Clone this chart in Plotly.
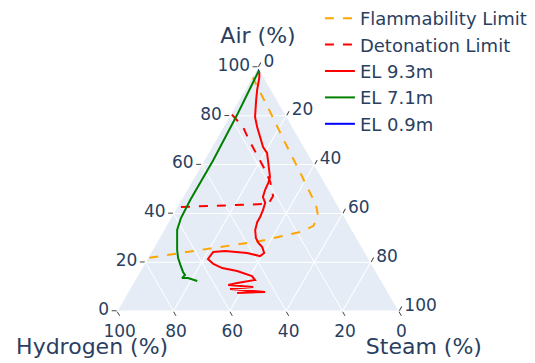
import plotly.graph_objects as go

# Flammability limit boundary (air %, steam %); hydrogen is the balance
flam_air = [96, 81.6, 68.9, 56.1, 43.4, 38.9, 34.8, 32.4, 28.7, 25.0, 21.7]
flam_steam = [0, 13.5, 25.2, 37.2, 48.9, 51.9, 52.2, 48.8, 36.5, 17.0, 0]

# Detonation limit boundary
det_air = [80.5, 75.4, 70.9, 63.1, 57.8, 52.9, 47.1, 43.9, 42.6]
det_steam = [0.5, 7.0, 11.0, 18.5, 23.6, 27.9, 31.8, 31.7, 0.5]

# Gas composition at elevation 9.3 m
el93_air = [99, 95.5, 90.6, 86.5, 79.5, 75.4, 71.3, 67.2, 64.8, 60.7, 54.9,
            52.5, 49.6, 46.7, 44.3, 41.4, 38.5, 36.5, 33.2, 29.9, 27.9, 26.2,
            23.8, 22.5, 23.8, 24.6, 24.2, 21.3, 19.3, 17.6, 16.4, 14.3,
            12.7, 11.5, 10.7, 9.8, 9.0, 7.8, 7.4, 7.8]
el93_steam = [1, 2.7, 4.4, 6.1, 9.2, 12.0, 15.1, 18.2, 20.8, 23.3, 26.8,
              27.4, 27.7, 28.4, 30.4, 31.1, 31.5, 31.5, 32.4, 34.3, 36.2, 38.4,
              40.3, 39.5, 34.2, 26.0, 22.0, 21.6, 24.5, 28.5, 34.4, 40.7,
              42.6, 36.9, 34.1, 43.4, 35.6, 48.6, 38.9, 45.8]

# Gas composition at elevation 7.1 m
el71_air = [99, 80.3, 61.9, 45.5, 38.1, 33.2, 25.0, 21.7, 18.9, 16.0, 14.8, 13.5, 13.5, 12.3]
el71_steam = [1, 2.4, 3.2, 3.2, 3.6, 4.7, 8.8, 10.8, 13.0, 15.4, 16.7, 16.3, 18.4, 22.3]

# Gas composition at elevation 0.9 m
el09_air = [99, 98.5]
el09_steam = [1, 1.2]


def hydrogen(air, steam):
    return [100 - a - s for a, s in zip(air, steam)]


series = [
    ("Flammability Limit", flam_air, flam_steam, "orange", "dash"),
    ("Detonation Limit", det_air, det_steam, "red", "dash"),
    ("EL 9.3m", el93_air, el93_steam, "red", "solid"),
    ("EL 7.1m", el71_air, el71_steam, "green", "solid"),
    ("EL 0.9m", el09_air, el09_steam, "blue", "solid"),
]

fig = go.Figure()
for name, air, steam, color, dash in series:
    fig.add_trace(go.Scatterternary(
        a=air, b=hydrogen(air, steam), c=steam,
        mode="lines", name=name,
        line=dict(color=color, width=2, dash=dash),
    ))

tick_font = dict(size=17)
title_font = dict(size=22)
axis_common = dict(ticks="outside", ticklen=5, dtick=20, tickfont=tick_font)

fig.update_layout(
    width=535, height=363,
    font=dict(family="DejaVu Sans", color="#2a3f5f"),
    margin=dict(l=117, r=136, t=67, b=52, autoexpand=False),
    ternary=dict(
        sum=100,
        aaxis=dict(title=dict(text="Air (%)", font=title_font), **axis_common),
        baxis=dict(title=dict(text="Hydrogen (%)", font=title_font), **axis_common),
        caxis=dict(title=dict(text="Steam (%)", font=title_font), **axis_common),
    ),
    legend=dict(
        xref="container", yref="container",
        x=0.598, y=1.0, xanchor="left", yanchor="top",
        bgcolor="rgba(0,0,0,0)", font=dict(size=18),
    ),
)

fig.write_html("out.html")
